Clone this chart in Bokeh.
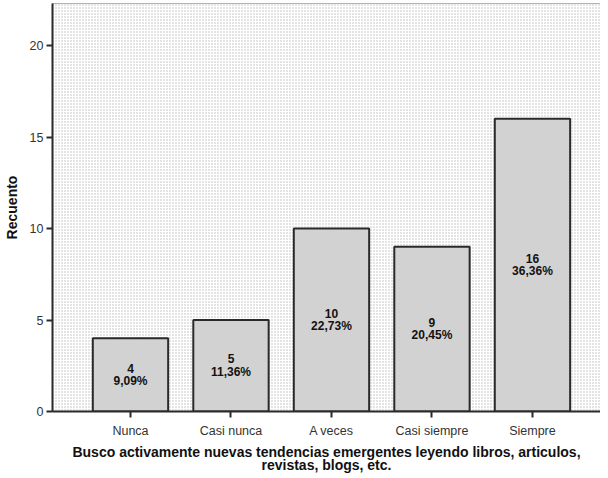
from bokeh.plotting import figure
from bokeh.models import ColumnDataSource, Range1d, FixedTicker, BoxAnnotation
from bokeh.core.properties import value
from bokeh.embed import file_html
from bokeh.resources import INLINE

categories = ["Nunca", "Casi nunca", "A veces", "Casi siempre", "Siempre"]
counts = [4, 5, 10, 9, 16]
percents = ["9,09%", "11,36%", "22,73%", "20,45%", "36,36%"]
y_ticks = [0, 5, 10, 15, 20]

xs = list(range(len(categories)))
src = ColumnDataSource(dict(
    x=xs,
    top=counts,
    mid=[c / 2 for c in counts],
    label=[f"{c}\n{p}" for c, p in zip(counts, percents)],
))

FONT = "Liberation Sans"

p = figure(width=600, height=476, output_backend="svg", toolbar_location=None,
           x_range=Range1d(-0.776, 4.677), y_range=Range1d(0, 22.3),
           min_border_left=52, min_border_right=0, min_border_top=3,
           min_border_bottom=58)
p.background_fill_color = "white"
p.border_fill_color = "white"
p.outline_line_color = "#999999"
p.outline_line_width = 1
p.xgrid.visible = False
p.ygrid.visible = False

bg = BoxAnnotation(fill_color="white", fill_alpha=1.0, line_color=None,
                   hatch_pattern="dot", hatch_color="#bbbbbb", hatch_scale=3,
                   hatch_weight=1, level="underlay")
p.add_layout(bg)

p.vbar(x="x", top="top", width=0.75, bottom=0, source=src,
       fill_color="#d2d2d2", line_color="#2a2a2a", line_width=2)

p.text(x="x", y="mid", text="label", source=src,
       text_font=value(FONT), text_font_style="bold", text_font_size="12px",
       text_align="center", text_baseline="middle", text_color="#111111",
       text_line_height=0.9)

xa = p.xaxis[0]
xa.ticker = FixedTicker(ticks=xs)
xa.major_label_overrides = {i: c for i, c in enumerate(categories)}
ya = p.yaxis[0]
ya.ticker = FixedTicker(ticks=y_ticks)

for ax in (xa, ya):
    ax.axis_line_color = "#2a2a2a"
    ax.axis_line_width = 2
    ax.major_tick_line_color = "#2a2a2a"
    ax.major_tick_line_width = 2
    ax.major_tick_out = 6
    ax.major_tick_in = 0
    ax.minor_tick_line_color = None
    ax.major_label_text_font = FONT
    ax.major_label_text_font_size = "12.5px"
    ax.major_label_text_color = "#333333"
    ax.axis_label_text_font = FONT
    ax.axis_label_text_font_style = "bold"
    ax.axis_label_text_font_size = "14px"
    ax.axis_label_text_color = "#111111"

ya.axis_label = "Recuento"
ya.major_label_standoff = 3
ya.axis_label_standoff = 7
xa.axis_label = ("Busco activamente nuevas tendencias emergentes leyendo libros, articulos,\n"
                 "revistas, blogs, etc.")
xa.major_label_standoff = 6
xa.axis_label_standoff = 3
xa.axis_label_text_line_height = 0.85

open("out.html", "w").write(file_html(p, INLINE))
